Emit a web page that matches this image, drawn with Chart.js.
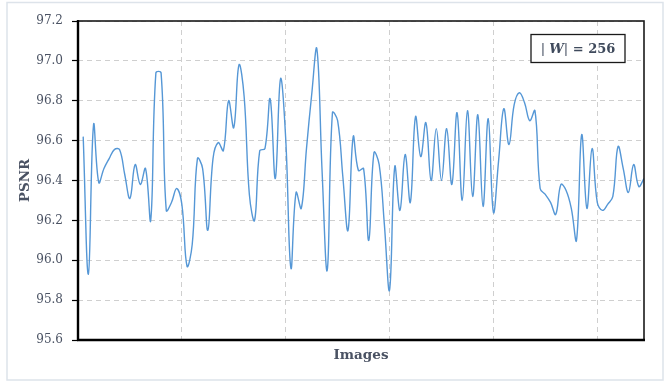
<!DOCTYPE html>
<html>
<head>
<meta charset="utf-8">
<script src="https://cdn.jsdelivr.net/npm/chart.js@4/dist/chart.umd.min.js"></script>
<style>
  html, body { margin: 0; padding: 0; background: #ffffff; }
  canvas { display: block; }
</style>
</head>
<body>
<canvas id="psnrChart" width="669" height="382"></canvas>
<script>
// PSNR measured on each test image (images numbered from 1)
const psnr = [
  96.62, 95.93, 96.68, 96.39, 96.46, 96.51, 96.555, 96.555, 96.43, 96.31,
  96.48, 96.38, 96.46, 96.20, 96.94, 96.94, 96.25, 96.29, 96.36, 96.28,
  95.97, 96.08, 96.51, 96.46, 96.15, 96.51, 96.59, 96.55, 96.80, 96.665,
  96.98, 96.82, 96.33, 96.20, 96.55, 96.56, 96.81, 96.41, 96.91, 96.61,
  95.96, 96.34, 96.26, 96.56, 96.83, 97.06, 96.45, 95.95, 96.74, 96.70,
  96.42, 96.15, 96.62, 96.45, 96.46, 96.10, 96.54, 96.48, 96.18, 95.85,
  96.47, 96.25, 96.53, 96.29, 96.72, 96.52, 96.69, 96.40, 96.66, 96.40,
  96.66, 96.38, 96.74, 96.30, 96.75, 96.32, 96.73, 96.27, 96.71, 96.24,
  96.50, 96.76, 96.58, 96.78, 96.84, 96.79, 96.70, 96.75, 96.36, 96.33,
  96.29, 96.23, 96.38, 96.35, 96.26, 96.10, 96.63, 96.26, 96.56, 96.29,
  96.25, 96.28, 96.32, 96.57, 96.46, 96.34, 96.48, 96.37, 96.41
];

// Axis ranges and tick positions
const xRange = [0, 109];
const xGridTicks = [0, 20, 40, 60, 80, 100];
const yTickLabels = ['95.6', '95.8', '96.0', '96.2', '96.4', '96.6', '96.8', '97.0', '97.2'];

// Text drawn on the figure
const xTitle = 'Images';
const yTitle = 'PSNR';
const boxSize = '256';

const textColor = '#4a5263';
const lineColor = '#5597d6';

const points = psnr.map((v, i) => ({ x: i + 1, y: v }));

const framePlugin = {
  id: 'figureFrame',
  beforeDraw(chart) {
    const ctx = chart.ctx;
    ctx.save();
    ctx.fillStyle = '#ffffff';
    ctx.fillRect(0, 0, chart.width, chart.height);
    ctx.strokeStyle = '#dde3ea';
    ctx.lineWidth = 1.5;
    ctx.strokeRect(7, 2.5, 656, 377.5);
    ctx.restore();
  },
  afterDraw(chart) {
    const ctx = chart.ctx;
    const xs = chart.scales.x, ys = chart.scales.y;
    const L = xs.getPixelForValue(xRange[0]);
    const R = xs.getPixelForValue(xRange[1]);
    const T = ys.getPixelForValue(ys.max);
    const B = ys.getPixelForValue(ys.min);
    ctx.save();
    // plot box
    ctx.strokeStyle = '#1a1a1a';
    ctx.lineWidth = 1.6;
    ctx.strokeRect(L, T, R - L, B - T);
    ctx.lineWidth = 2.4;
    ctx.strokeStyle = '#000000';
    ctx.beginPath();
    ctx.moveTo(L, T - 1);
    ctx.lineTo(L, B + 1);
    ctx.moveTo(L - 1, B);
    ctx.lineTo(R + 1, B);
    ctx.stroke();

    // axis titles
    ctx.fillStyle = textColor;
    ctx.font = 'bold 13.5px "DejaVu Serif"';
    ctx.textAlign = 'center';
    ctx.textBaseline = 'middle';
    ctx.fillText(xTitle, (L + R) / 2, 355);
    ctx.save();
    ctx.translate(25, (T + B) / 2);
    ctx.rotate(-Math.PI / 2);
    ctx.fillText(yTitle, 0, 0);
    ctx.restore();

    // annotation box: |W| = 256
    const bx = 531, by = 34.5, bw = 94, bh = 28;
    ctx.fillStyle = '#ffffff';
    ctx.fillRect(bx, by, bw, bh);
    ctx.strokeStyle = '#1a1a1a';
    ctx.lineWidth = 1.3;
    ctx.strokeRect(bx, by, bw, bh);
    const parts = [
      { t: '| ', f: '13px "DejaVu Serif"' },
      { t: 'W', f: 'bold italic 13px "DejaVu Serif"' },
      { t: '|', f: '13px "DejaVu Serif"' },
      { t: ' = ', f: 'bold 13px "DejaVu Serif"' },
      { t: boxSize, f: 'bold 13px "DejaVu Serif"' }
    ];
    let w = 0;
    parts.forEach(p => { ctx.font = p.f; w += ctx.measureText(p.t).width; });
    let x = bx + (bw - w) / 2;
    ctx.fillStyle = '#3f4a5c';
    ctx.textAlign = 'left';
    ctx.textBaseline = 'middle';
    parts.forEach(p => {
      ctx.font = p.f;
      ctx.fillText(p.t, x, by + bh / 2 + 1);
      x += ctx.measureText(p.t).width;
    });
    ctx.restore();
  }
};

new Chart(document.getElementById('psnrChart'), {
  type: 'line',
  data: {
    datasets: [{
      data: points,
      borderColor: lineColor,
      borderWidth: 1.4,
      pointRadius: 0,
      tension: 0.4,
      fill: false
    }]
  },
  options: {
    responsive: false,
    animation: false,
    events: [],
    layout: { padding: { left: 0, top: 21, right: 25, bottom: 0 } },
    plugins: { legend: { display: false }, tooltip: { enabled: false } },
    scales: {
      x: {
        type: 'linear',
        min: xRange[0],
        max: xRange[1],
        afterBuildTicks: s => { s.ticks = xGridTicks.map(v => ({ value: v })); },
        afterFit: s => { s.height = 42; },
        ticks: { display: false },
        border: { display: false, dash: [5, 4] },
        grid: {
          color: '#cfcfcf',
          lineWidth: 1,
          drawTicks: false
        }
      },
      y: {
        min: 95.6,
        max: 97.2,
        afterBuildTicks: s => { s.ticks = yTickLabels.map(v => ({ value: parseFloat(v) })); },
        afterFit: s => { s.width = 78; },
        ticks: {
          callback: (v, i) => yTickLabels[i],
          color: textColor,
          font: { family: '"DejaVu Serif"', size: 12 },
          padding: 9
        },
        border: { display: false, dash: [5, 4] },
        grid: {
          color: '#cfcfcf',
          lineWidth: 1,
          tickLength: 6,
          tickColor: '#000000',
          tickBorderDash: [],
          tickWidth: 1.2
        }
      }
    }
  },
  plugins: [framePlugin]
});
</script>
</body>
</html>
